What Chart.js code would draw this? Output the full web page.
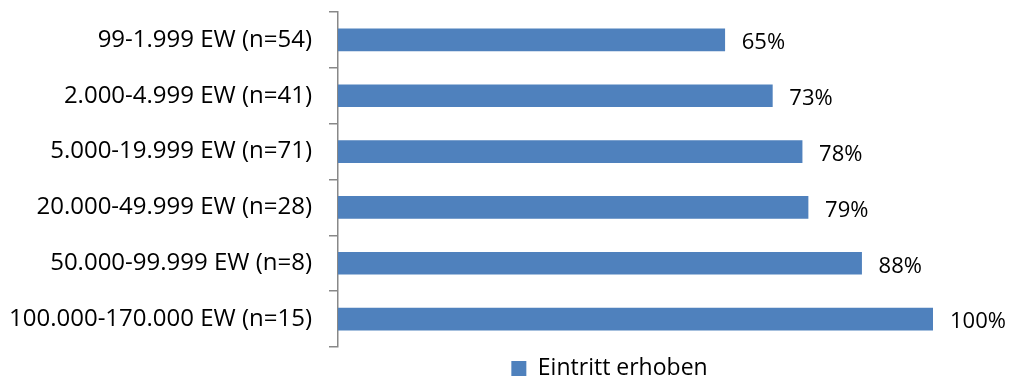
<!DOCTYPE html>
<html>
<head>
<meta charset="utf-8">
<script src="https://cdn.jsdelivr.net/npm/chart.js@4"></script>
<style>
  html, body { margin: 0; padding: 0; background: #fff; }
  #wrap { width: 1011px; height: 380px; position: relative; }
</style>
</head>
<body>
<div id="wrap"><canvas id="chart"></canvas></div>
<script>
// Größenklassen der Gemeinden und Anteil "Eintritt erhoben"
const categories = [
  '99-1.999 EW (n=54)',
  '2.000-4.999 EW (n=41)',
  '5.000-19.999 EW (n=71)',
  '20.000-49.999 EW (n=28)',
  '50.000-99.999 EW (n=8)',
  '100.000-170.000 EW (n=15)'
];
const values = [65, 73, 78, 79, 88, 100];
const seriesName = 'Eintritt erhoben';

const FONT = '"Open Sans", sans-serif';

// Prozentwerte rechts neben die Balken schreiben
const valueLabels = {
  id: 'valueLabels',
  afterDatasetsDraw(chart) {
    const ctx = chart.ctx;
    const meta = chart.getDatasetMeta(0);
    ctx.save();
    ctx.font = '22px ' + FONT;
    ctx.fillStyle = '#000';
    ctx.textAlign = 'left';
    ctx.textBaseline = 'middle';
    meta.data.forEach((bar, i) => {
      ctx.fillText(values[i] + '%', bar.x + 17, bar.y + 3);
    });
    ctx.restore();
  }
};

// Legende nach rechts unten rücken
const legendShift = {
  id: 'legendShift',
  afterLayout(chart) {
    const lg = chart.legend;
    lg.left += 143;
    lg.right += 143;
    lg.top += 10;
    lg.bottom += 10;
  }
};

new Chart(document.getElementById('chart'), {
  type: 'bar',
  data: {
    labels: categories,
    datasets: [{
      label: seriesName,
      data: values,
      backgroundColor: '#4F81BD',
      barThickness: 22
    }]
  },
  options: {
    indexAxis: 'y',
    responsive: true,
    maintainAspectRatio: false,
    animation: false,
    layout: { padding: { top: 12, right: 78, left: 0, bottom: 0 } },
    plugins: {
      legend: {
        position: 'bottom',
        labels: {
          boxWidth: 15,
          boxHeight: 15,
          padding: 0,
          color: '#000',
          font: { family: FONT, size: 23 }
        }
      },
      tooltip: { enabled: false }
    },
    scales: {
      x: {
        display: false,
        min: 0,
        max: 100
      },
      y: {
        afterFit: s => {
          s.width = 338;
          s.paddingTop = 0;
          s.paddingBottom = 0;
        },
        border: { display: true, color: '#888', width: 1.5 },
        grid: {
          drawOnChartArea: false,
          tickLength: 9,
          color: '#888',
          lineWidth: 1.5
        },
        ticks: {
          color: '#000',
          padding: 17,
          font: { family: FONT, size: 24 }
        }
      }
    }
  },
  plugins: [valueLabels, legendShift]
});
</script>
</body>
</html>
